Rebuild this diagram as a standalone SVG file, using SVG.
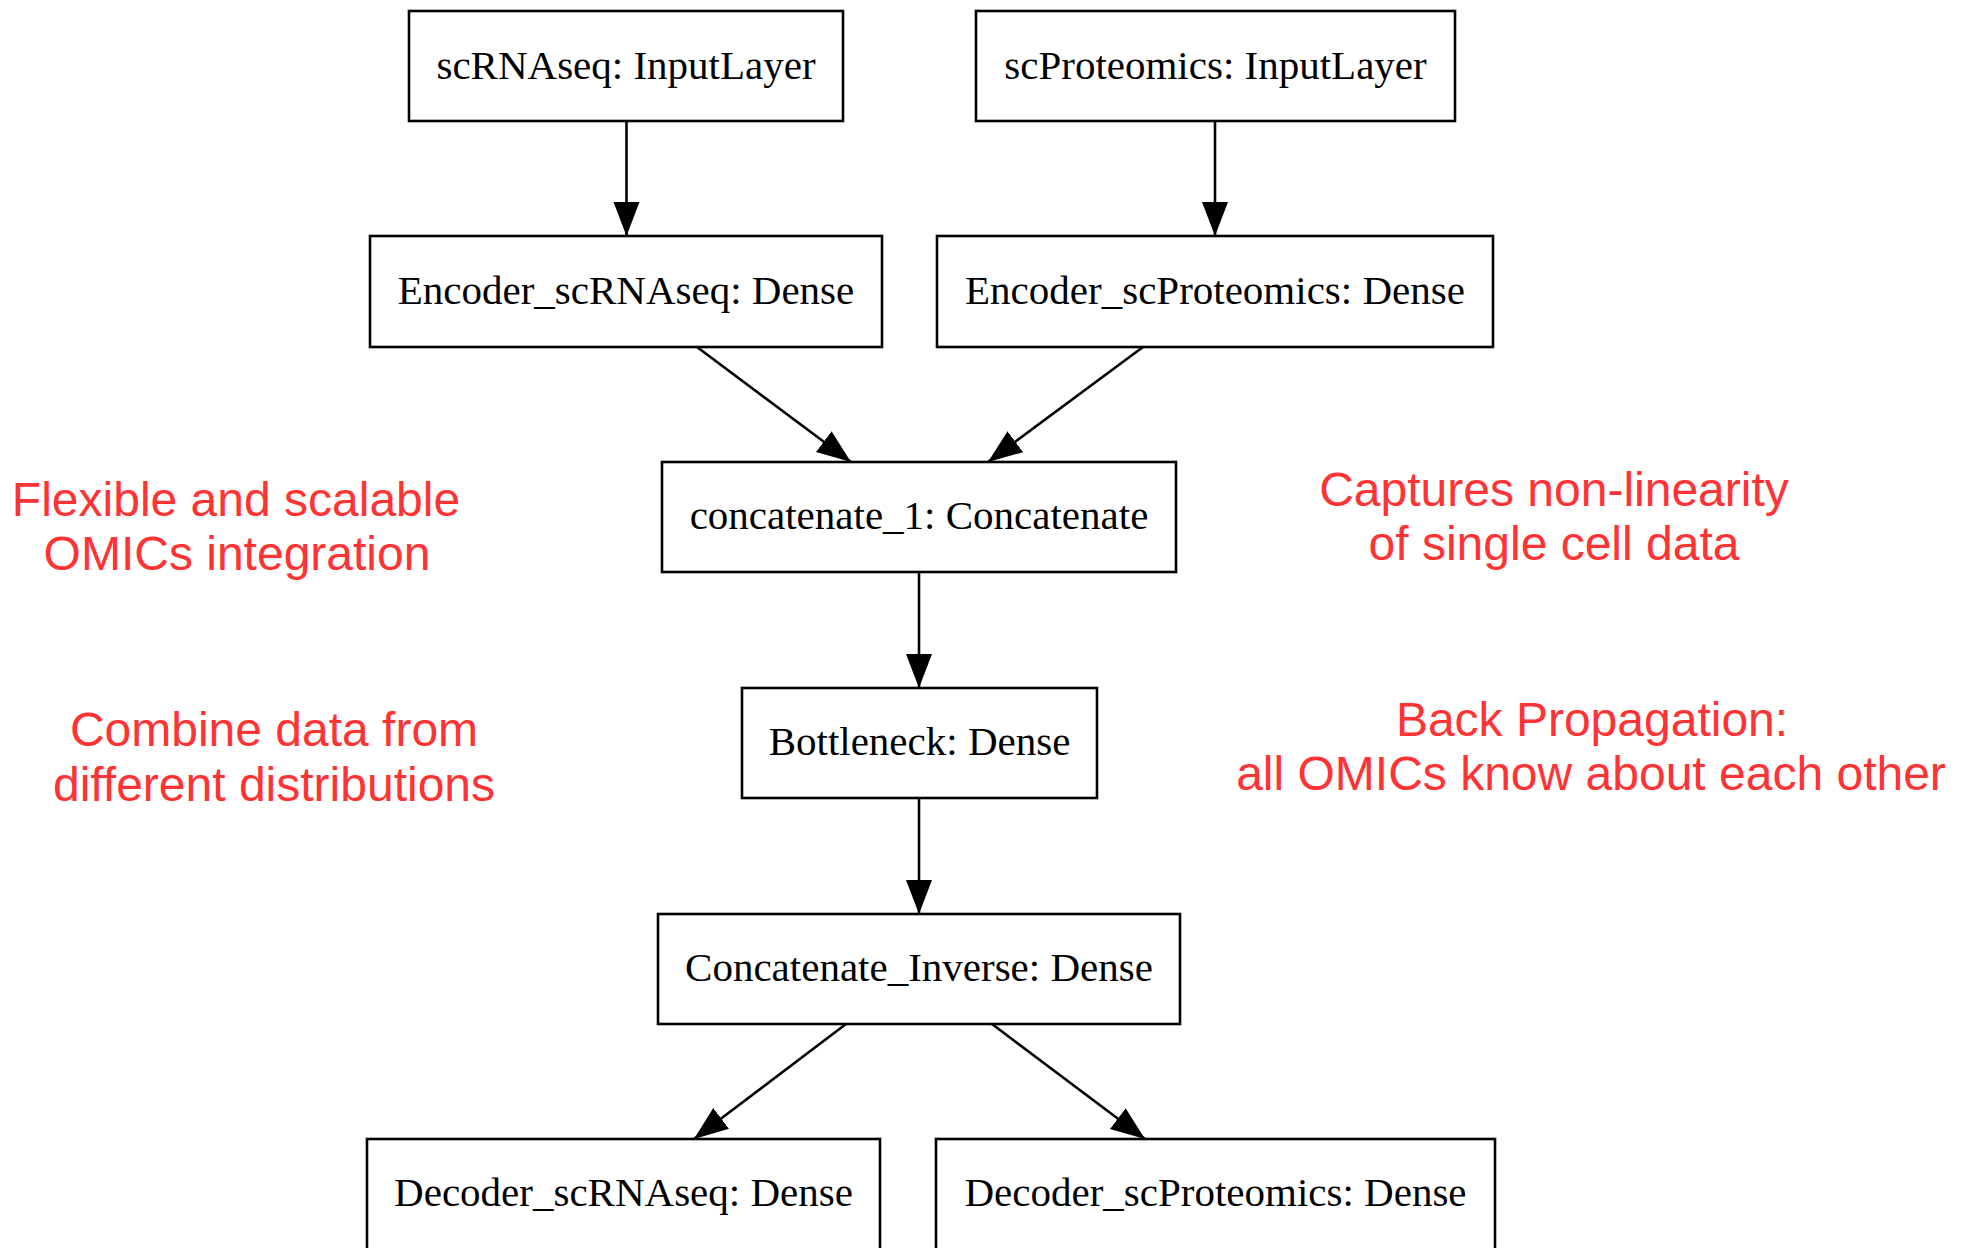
<svg xmlns="http://www.w3.org/2000/svg" width="1962" height="1248" viewBox="0 0 1962 1248">
<style>
.node rect{fill:#fff;stroke:#000;stroke-width:2.6}
.node text{font-family:"Liberation Serif","Times New Roman",serif;font-size:41px;fill:#000;text-anchor:middle}
.edge{stroke:#000;stroke-width:2.6;fill:none;marker-end:url(#ah)}
.note{font-family:"Liberation Sans",Arial,sans-serif;font-size:48px;fill:#ff3333;text-anchor:middle}
</style>
<defs>
<marker id="ah" markerUnits="userSpaceOnUse" markerWidth="36" markerHeight="28" refX="34" refY="13" orient="auto">
<path d="M0,0 L34,13 L0,26 z" fill="#000"/>
</marker>
</defs>
<rect width="1962" height="1248" fill="#fff"/>
<g id="connectors">
<line class="edge" x1="626.5" y1="121" x2="626.5" y2="236"/>
<line class="edge" x1="1215" y1="121" x2="1215" y2="236"/>
<line class="edge" x1="697" y1="347" x2="851" y2="462"/>
<line class="edge" x1="1143" y1="347" x2="988" y2="462"/>
<line class="edge" x1="919" y1="572" x2="919" y2="688"/>
<line class="edge" x1="919" y1="798" x2="919" y2="914"/>
<line class="edge" x1="846" y1="1024" x2="694" y2="1139"/>
<line class="edge" x1="992" y1="1024" x2="1145" y2="1139"/>
</g>
<g id="n-scRNAseq" class="node"><rect x="409" y="11" width="434" height="110"/><text x="626" y="79">scRNAseq: InputLayer</text></g>
<g id="n-scProteomics" class="node"><rect x="976" y="11" width="479" height="110"/><text x="1215.5" y="79">scProteomics: InputLayer</text></g>
<g id="n-enc1" class="node"><rect x="370" y="236" width="512" height="111"/><text x="626" y="304">Encoder_scRNAseq: Dense</text></g>
<g id="n-enc2" class="node"><rect x="937" y="236" width="556" height="111"/><text x="1215" y="304">Encoder_scProteomics: Dense</text></g>
<g id="n-concat" class="node"><rect x="662" y="462" width="514" height="110"/><text x="919" y="529">concatenate_1: Concatenate</text></g>
<g id="n-bottleneck" class="node"><rect x="742" y="688" width="355" height="110"/><text x="919.5" y="755">Bottleneck: Dense</text></g>
<g id="n-concinv" class="node"><rect x="658" y="914" width="522" height="110"/><text x="919" y="981">Concatenate_Inverse: Dense</text></g>
<g id="n-dec1" class="node"><rect x="367" y="1139" width="513" height="115"/><text x="623.5" y="1206">Decoder_scRNAseq: Dense</text></g>
<g id="n-dec2" class="node"><rect x="936" y="1139" width="559" height="115"/><text x="1215.5" y="1206">Decoder_scProteomics: Dense</text></g>
<g id="notes">
<text class="note" x="236" y="516">Flexible and scalable</text>
<text class="note" x="237" y="570">OMICs integration</text>
<text class="note" x="1554" y="506">Captures non-linearity</text>
<text class="note" x="1554" y="560">of single cell data</text>
<text class="note" x="274" y="746">Combine data from</text>
<text class="note" x="274" y="801">different distributions</text>
<text class="note" x="1592" y="736">Back Propagation:</text>
<text class="note" x="1591" y="790">all OMICs know about each other</text>
</g>
</svg>
